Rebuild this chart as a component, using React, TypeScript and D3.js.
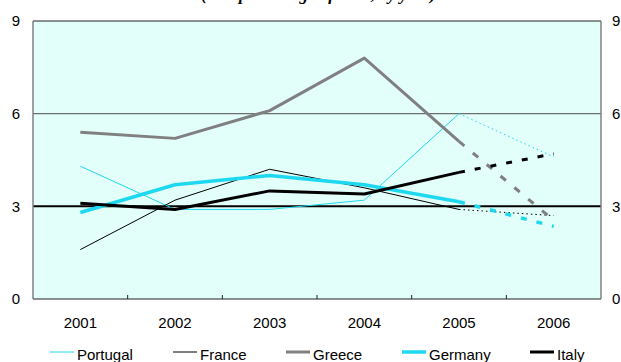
import React from "react";
import * as d3 from "d3";

const years = ["2001", "2002", "2003", "2004", "2005", "2006"];
const portugal = [4.3, 2.9, 2.9, 3.2, 6.0, 4.6];
const france = [1.6, 3.2, 4.2, 3.6, 2.9, 2.7];
const greece = [5.4, 5.2, 6.1, 7.8, 5.1, 2.55];
const germany = [2.8, 3.7, 4.0, 3.7, 3.15, 2.35];
const italy = [3.1, 2.9, 3.5, 3.4, 4.1, 4.7];
const yTicks = [0, 3, 6, 9];
const title = "(as a percentage of GDP, by year)";

const CYAN = "#1ED8F0";
const series = [
  { name: "Portugal", values: portugal, color: CYAN, width: 1, proj: "1.5,3" },
  { name: "France", values: france, color: "#000000", width: 1, proj: "1.5,3" },
  { name: "Greece", values: greece, color: "#808080", width: 3, proj: "7,11" },
  { name: "Germany", values: germany, color: CYAN, width: 3.5, proj: "6,10" },
  { name: "Italy", values: italy, color: "#000000", width: 3, proj: "6,10" },
];
const legendX = [50, 173, 286, 402, 530];

export default function App() {
  const W = 621, H = 362;
  const L = 33, R = 601, T = 21, B = 299;
  const x = d3.scaleBand<string>().domain(years).range([L, R]).padding(0);
  const cx = (i: number) => (x(years[i]) as number) + x.bandwidth() / 2;
  const y = d3.scaleLinear().domain([0, 9]).range([B, T]);
  const line = d3
    .line<[number, number]>()
    .x((d) => cx(d[0]))
    .y((d) => y(d[1]));
  const font = "'Liberation Sans', Arial, sans-serif";
  const fs = 15;

  return (
    <svg
      width={W}
      height={H}
      style={{ position: "absolute", left: 0, top: 0 }}
      fontFamily={font}
    >
      <rect x={0} y={0} width={W} height={H} fill="#ffffff" />
      <text
        x={W / 2 + 8}
        y={0}
        textAnchor="middle"
        fontFamily="'Liberation Serif', 'Times New Roman', serif"
        fontStyle="italic"
        fontWeight="bold"
        fontSize={17}
      >
        {title}
      </text>
      <rect x={L} y={T} width={R - L} height={B - T} fill="#E2FFF9" />
      <line x1={L} x2={R} y1={y(6)} y2={y(6)} stroke="#6e6e6e" strokeWidth={1.2} />
      <line x1={L} x2={R} y1={y(3)} y2={y(3)} stroke="#000" strokeWidth={2} />
      <line x1={L} x2={R} y1={T} y2={T} stroke="#222" strokeWidth={1.2} />
      <line x1={L} x2={R} y1={B} y2={B} stroke="#222" strokeWidth={1.2} />
      <line x1={L} x2={L} y1={T} y2={B} stroke="#808080" strokeWidth={1.5} />
      <line x1={R} x2={R} y1={T} y2={B} stroke="#808080" strokeWidth={1.5} />
      {years.slice(1).map((yr) => (
        <line
          key={yr}
          x1={x(yr) as number}
          x2={x(yr) as number}
          y1={B}
          y2={B - 4}
          stroke="#222"
          strokeWidth={1}
        />
      ))}
      {yTicks.map((t) => (
        <g key={t}>
          <text x={20} y={y(t)} dy="0.35em" textAnchor="end" fontSize={fs} fill="#000">
            {t}
          </text>
          <text x={612} y={y(t)} dy="0.35em" textAnchor="start" fontSize={fs} fill="#000">
            {t}
          </text>
        </g>
      ))}
      {years.map((yr, i) => (
        <text key={yr} x={cx(i)} y={328} textAnchor="middle" fontSize={fs} fill="#000">
          {yr}
        </text>
      ))}
      {series.map((s) => {
        const actual: [number, number][] = s.values.slice(0, 5).map((v, i) => [i, v]);
        const proj: [number, number][] = [
          [4, s.values[4]],
          [5, s.values[5]],
        ];
        return (
          <g key={s.name}>
            <path d={line(actual) || ""} fill="none" stroke={s.color} strokeWidth={s.width} strokeLinejoin="round" />
            <path d={line(proj) || ""} fill="none" stroke={s.color} strokeWidth={s.width} strokeDasharray={s.proj} />
          </g>
        );
      })}
      {series.map((s, i) => (
        <g key={"lg" + s.name}>
          <line x1={legendX[i]} x2={legendX[i] + 24} y1={352} y2={352} stroke={s.color} strokeWidth={s.width} />
          <text x={legendX[i] + 27} y={360} fontSize={fs} fill="#000">
            {s.name}
          </text>
        </g>
      ))}
    </svg>
  );
}
